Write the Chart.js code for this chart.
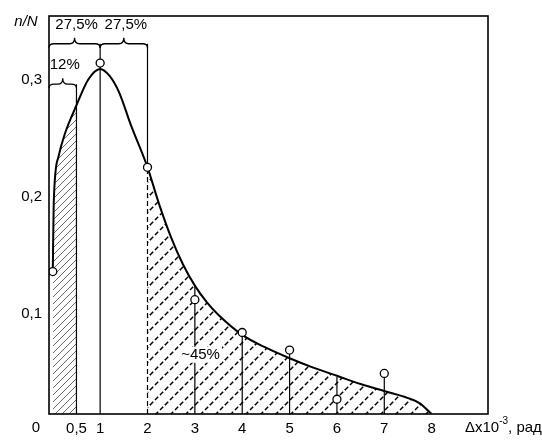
<!DOCTYPE html>
<html>
<head>
<meta charset="utf-8">
<script src="https://cdn.jsdelivr.net/npm/chart.js@4.4.0/dist/chart.umd.min.js"></script>
<style>
  html, body { margin: 0; padding: 0; background: #fff; }
  #wrap { width: 542px; height: 440px; position: relative; }
</style>
</head>
<body>
<div id="wrap"><canvas id="chart"></canvas></div>
<script>
// smooth distribution curve n/N over Δx (x10^-3 rad)
const curveX = [0, 0.02, 0.12, 0.25, 0.5, 0.75, 1.0, 1.2, 1.4, 1.65, 2.0, 2.25, 2.5, 2.75, 3.0, 3.25, 3.5, 4.0, 4.5, 5.0, 5.5, 6.0, 6.5, 7.0, 7.5, 7.75, 8.0];
const curveY = [0.136, 0.195, 0.234, 0.253, 0.278, 0.300, 0.309, 0.303, 0.289, 0.261, 0.225, 0.193, 0.165, 0.142, 0.124, 0.110, 0.099, 0.082, 0.071, 0.062, 0.054, 0.047, 0.040, 0.034, 0.028, 0.0235, 0.0144];

// measured points (open circles)
const pointX = [0, 1, 2, 3, 4, 5, 6, 7];
const pointY = [0.136, 0.314, 0.225, 0.112, 0.084, 0.069, 0.027, 0.049];

// vertical lines: solid ones, and the dashed one under the point at 2
const stemX = [0.5, 1, 2, 3, 4, 5, 6, 7];
const stemBottom = [0.0144, 0.0144, 0.225, 0.0144, 0.0144, 0.0144, 0.0144, 0.0144];
const stemTop = [0.296, 0.3305, 0.3305, 0.124, 0.084, 0.069, 0.046, 0.049];
const dashStemX = [2];
const dashStemTop = [0.225];

// braces with shares
const braceFrom = [0, 1, 0];
const braceTo = [1, 2, 0.5];
const braceLevel = [0.3305, 0.3305, 0.296];
const braceLabel = ['27,5%', '27,5%', '12%'];

const xTicks = [0.5, 1, 2, 3, 4, 5, 6, 7, 8];
const yTicks = [0.1, 0.2, 0.3];

const FONT = "'Liberation Sans', Arial, sans-serif";
const xMin = -0.08, xMax = 9.19;
const yMin = 0.0144, yMax = 0.3542;

function makeHatch(size, lw, dash, color) {
    const c = document.createElement('canvas');
    c.width = size; c.height = size;
    const g = c.getContext('2d');
    g.strokeStyle = color;
    g.lineWidth = lw;
    if (dash) g.setLineDash(dash);
    g.beginPath();
    g.moveTo(0, size); g.lineTo(size, 0);
    g.moveTo(-size / 2, size / 2); g.lineTo(size / 2, -size / 2);
    g.moveTo(size / 2, size * 1.5); g.lineTo(size * 1.5, size / 2);
    g.stroke();
    return g.createPattern(c, 'repeat');
}

const hatchFine = makeHatch(7, 0.8, null, '#444');
const hatchDash = makeHatch(15, 1.5, [4.5, 2.57], '#000');

function segFill(ctx) {
    const a = curveX[ctx.p0DataIndex], b = curveX[ctx.p1DataIndex];
    if (b <= 0.5) return hatchFine;
    if (a >= 2) return hatchDash;
    return 'rgba(0,0,0,0)';
}

function comma(v) { return String(v).replace('.', ','); }

function drawBrace(ctx, x0, x1, yb) {
    const xm = (x0 + x1) / 2;
    ctx.beginPath();
    ctx.moveTo(x0, yb + 4);
    ctx.quadraticCurveTo(x0, yb, x0 + 5, yb);
    ctx.lineTo(xm - 5, yb);
    ctx.quadraticCurveTo(xm, yb, xm, yb - 6);
    ctx.quadraticCurveTo(xm, yb, xm + 5, yb);
    ctx.lineTo(x1 - 5, yb);
    ctx.quadraticCurveTo(x1, yb, x1, yb + 4);
    ctx.stroke();
}

const decor = {
    id: 'decor',
    afterDatasetsDraw(chart) {
        const { ctx, chartArea: a, scales: { x, y } } = chart;
        ctx.save();
        ctx.strokeStyle = '#000';
        ctx.fillStyle = '#000';
        ctx.lineWidth = 1.3;
        ctx.font = '15px ' + FONT;
        ctx.textAlign = 'center';
        ctx.textBaseline = 'middle';
        for (let i = 0; i < braceFrom.length; i++) {
            const x0 = braceFrom[i] <= 0 ? a.left : x.getPixelForValue(braceFrom[i]);
            const x1 = x.getPixelForValue(braceTo[i]);
            const yb = y.getPixelForValue(braceLevel[i]);
            drawBrace(ctx, x0, x1, yb);
            ctx.fillText(braceLabel[i], (x0 + x1) / 2 + 2, yb - 19);
        }

        // share of the long tail
        const lx = x.getPixelForValue(3.12), ly = y.getPixelForValue(0.065);
        const w = ctx.measureText('~45%').width;
        ctx.fillStyle = '#fff';
        ctx.fillRect(lx - w / 2 - 2, ly - 8, w + 4, 16);
        ctx.fillStyle = '#000';
        ctx.fillText('~45%', lx, ly);

        // frame
        ctx.lineWidth = 1.6;
        ctx.strokeRect(a.left, a.top, a.width, a.height);

        // axis titles and corner zero
        ctx.fillText('0', 36, 428);
        ctx.font = 'italic 15px ' + FONT;
        ctx.fillText('n/N', 26, 22);
        ctx.font = '15px ' + FONT;
        ctx.textAlign = 'left';
        let tx = 465;
        ctx.fillText('\u0394x10', tx, 428);
        tx += ctx.measureText('\u0394x10').width;
        ctx.font = '10px ' + FONT;
        ctx.fillText('-3', tx, 421);
        tx += ctx.measureText('-3').width;
        ctx.font = '15px ' + FONT;
        ctx.fillText(', \u0440\u0430\u0434', tx, 428);
        ctx.restore();
    }
};

const stemSets = stemX.map((sx, i) => ({
    data: [{ x: sx, y: stemBottom[i] }, { x: sx, y: stemTop[i] }],
    borderColor: '#000',
    borderWidth: 1.2,
    pointRadius: 0,
    fill: false,
    order: 3
}));
const dashSets = dashStemX.map((sx, i) => ({
    data: [{ x: sx, y: yMin }, { x: sx, y: dashStemTop[i] }],
    borderColor: '#000',
    borderWidth: 1.2,
    borderDash: [5, 3],
    pointRadius: 0,
    fill: false,
    order: 3
}));

new Chart(document.getElementById('chart'), {
    type: 'line',
    data: {
        datasets: [
            {
                data: pointX.map((v, i) => ({ x: v, y: pointY[i] })),
                showLine: false,
                pointRadius: 4,
                pointBackgroundColor: '#fff',
                pointBorderColor: '#000',
                pointBorderWidth: 1.3,
                order: 1
            },
            {
                data: curveX.map((v, i) => ({ x: v, y: curveY[i] })),
                borderColor: '#000',
                borderWidth: 2,
                backgroundColor: 'rgba(0,0,0,0)',
                cubicInterpolationMode: 'monotone',
                pointRadius: 0,
                fill: 'start',
                segment: { backgroundColor: segFill },
                order: 2
            },
            ...stemSets,
            ...dashSets
        ]
    },
    options: {
        responsive: true,
        maintainAspectRatio: false,
        animation: false,
        layout: { padding: { left: 0, top: 13, right: 54, bottom: 0 } },
        plugins: {
            legend: { display: false },
            tooltip: { enabled: false },
            filler: { drawTime: 'beforeDatasetsDraw' }
        },
        scales: {
            x: {
                type: 'linear',
                min: xMin,
                max: xMax,
                grid: { display: false, drawTicks: false },
                border: { display: false },
                ticks: {
                    color: '#000',
                    font: { family: FONT, size: 15 },
                    padding: 6,
                    autoSkip: false,
                    maxRotation: 0,
                    callback: v => comma(v)
                },
                afterBuildTicks: s => { s.ticks = xTicks.map(v => ({ value: v })); },
                afterFit: s => { s.height = 26; }
            },
            y: {
                type: 'linear',
                min: yMin,
                max: yMax,
                grid: { display: false, drawTicks: false },
                border: { display: false },
                ticks: {
                    color: '#000',
                    font: { family: FONT, size: 15 },
                    padding: 7,
                    callback: v => comma(v)
                },
                afterBuildTicks: s => { s.ticks = yTicks.map(v => ({ value: v })); },
                afterFit: s => { s.width = 49; }
            }
        }
    },
    plugins: [decor]
});
</script>
</body>
</html>
